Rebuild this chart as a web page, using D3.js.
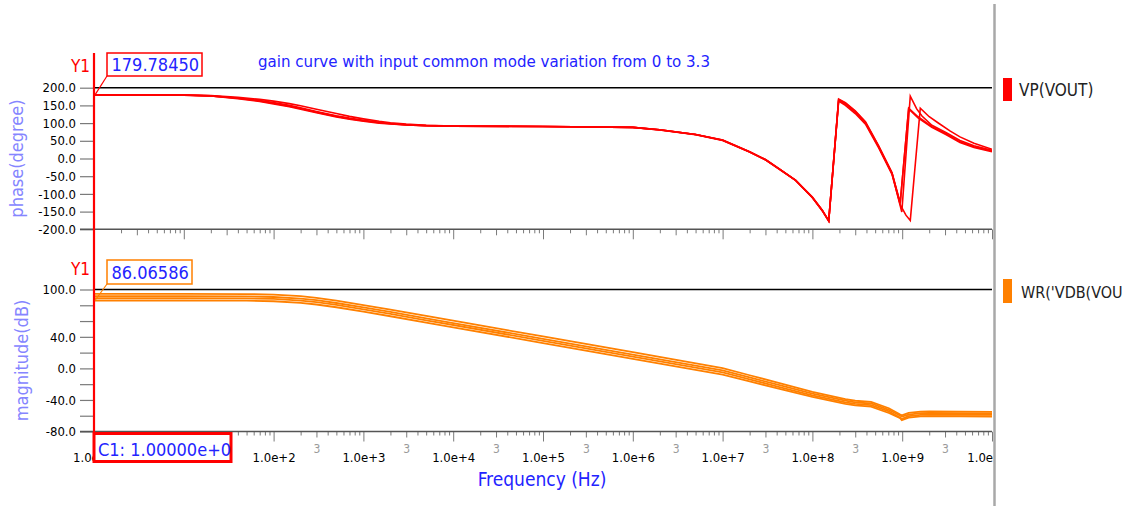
<!DOCTYPE html>
<html>
<head>
<meta charset="utf-8">
<script src="https://cdn.jsdelivr.net/npm/d3@7"></script>
<style>
  html, body { margin: 0; padding: 0; background: #fff; }
  svg { display: block; }
  text { font-family: "DejaVu Sans Condensed", "DejaVu Sans", sans-serif; }
</style>
</head>
<body>
<svg id="chart" width="1134" height="510"></svg>
<script>
// ---- frequency axis ----
const decadeValues = [1, 1e1, 1e2, 1e3, 1e4, 1e5, 1e6, 1e7, 1e8, 1e9, 1e10];
const decadeLabels = ["1.0e+0", "1.0e+1", "1.0e+2", "1.0e+3", "1.0e+4", "1.0e+5",
                      "1.0e+6", "1.0e+7", "1.0e+8", "1.0e+9", "1.0e+10"];
const minorMantissas = [2, 3, 4, 5, 6, 7, 8, 9];
const labelledMantissa = 3;

// ---- phase axis ----
const phaseTicks = [200, 150, 100, 50, 0, -50, -100, -150, -200];
const phaseTickLabels = ["200.0", "150.0", "100.0", "50.0", "0.0", "-50.0", "-100.0", "-150.0", "-200.0"];

// ---- magnitude axis ----
const magTicks = [100, 80, 60, 40, 20, 0, -20, -40, -60, -80];
const magLabelValues = [100, 40, 0, -40, -80];
const magLabelTexts = ["100.0", "40.0", "0.0", "-40.0", "-80.0"];

// ---- VP(VOUT): phase in degrees, one curve per input common-mode level ----
const phaseCurve1 = [[1,179.8],[10,179.3],[20,177.5],[40,173],[70,167],[100,162],[150,155],[200,149],[300,139],[500,127],[700,119],[1e3,112],[1.5e3,105],[2e3,101],[3e3,97],[5e3,94],[1e4,92],[1e5,90.5],[1e6,88],[2e6,81],[5e6,68],[1e7,52],[2e7,19],[3e7,-3],[4.2e7,-28],[6.5e7,-61],[1e8,-109],[1.29e8,-146],[1.52e8,-176],[1.96e8,168],[2.33e8,158],[3e8,135],[3.9e8,104],[5.47e8,36],[7.7e8,-40],[9.5e8,-127],[1.18e9,142],[1.5e9,118],[2.14e9,90],[3.1e9,70],[4.4e9,47],[6.3e9,33],[1e10,21]];
const phaseCurve2 = [[1,179.8],[10,179.2],[20,177],[40,171],[70,164],[100,158],[150,150],[200,143],[300,133],[500,121],[700,114],[1e3,108],[1.5e3,102],[2e3,99],[3e3,95.5],[5e3,93],[1e4,91.5],[1e5,90.5],[1e6,88],[2e6,81],[5e6,68],[1e7,52],[2e7,19],[3e7,-3],[4.2e7,-28],[6.5e7,-62],[1e8,-110],[1.29e8,-147],[1.52e8,-176],[1.96e8,165],[2.33e8,154],[3e8,131],[3.9e8,100],[5.47e8,33],[7.7e8,-42],[9.9e8,-151],[1.23e9,176],[1.45e9,140],[1.66e9,120],[2.14e9,94],[3.1e9,73],[4.4e9,51],[6.3e9,36],[1e10,23]];
const phaseCurve3 = [[1,179.8],[10,179],[20,176.5],[40,169],[70,161],[100,154],[150,146],[200,139],[300,129],[500,117],[700,111],[1e3,105],[1.5e3,100],[2e3,97.5],[3e3,94.5],[5e3,92.5],[1e4,91.3],[1e5,90.5],[1e6,88],[2e6,80.5],[5e6,67.5],[1e7,51],[2e7,18],[3e7,-4],[4.2e7,-29],[6.5e7,-62],[1e8,-111],[1.29e8,-148],[1.52e8,-177],[1.96e8,162],[2.33e8,150],[3e8,127],[3.9e8,97],[5.47e8,30],[7.7e8,-45],[9.5e8,-130],[1.1e9,-160],[1.23e9,-175],[1.59e9,142],[2e9,118],[2.5e9,101],[3.4e9,78],[4.4e9,61],[6.3e9,43],[1e10,26]];
const phaseCurve4 = [[1,179.7845],[10,179.1],[20,176.8],[40,170],[70,162.5],[100,156],[150,148],[200,141],[300,131],[500,119],[700,112.5],[1e3,106.5],[1.5e3,101],[2e3,98],[3e3,95],[5e3,92.8],[1e4,91.4],[1e5,90.5],[1e6,88],[2e6,80.8],[5e6,67.8],[1e7,51.5],[2e7,18.5],[3e7,-3.5],[4.2e7,-28.5],[6.5e7,-61.5],[1e8,-110],[1.29e8,-147],[1.52e8,-176],[1.96e8,166],[2.33e8,156],[3e8,133],[3.9e8,102],[5.47e8,34],[7.7e8,-41],[9.5e8,-125],[1.18e9,140],[1.5e9,115],[2.14e9,88],[3.1e9,67],[4.4e9,45],[6.3e9,31],[1e10,19]];

// ---- VDB(VOUT): magnitude in dB on a shared frequency grid ----
const magFreq = [1, 10, 50, 100, 200, 300, 500, 1e3, 2e3, 5e3, 1e4, 1e5, 1e6, 1e7, 2e7, 4.2e7, 1e8, 2.33e8, 3e8, 4.5e8, 7.1e8, 9.5e8, 9.9e8, 1.18e9, 1.6e9, 2e9, 1e10];
const magCurve1 = [94.5, 94.5, 94.2, 93.5, 91.5, 89.4, 85.9, 80.3, 74.5, 66.5, 60.5, 40.5, 20.5, 0.3, -8.7, -18.3, -29.8, -39, -41, -42.5, -50.5, -58.5, -59.5, -56.5, -54.8, -54.5, -55];
const magCurve2 = [91.5, 91.5, 91.2, 90.5, 88.5, 86.4, 82.9, 77.3, 71.5, 63.5, 57.5, 37.5, 17.5, -2.5, -11.4, -20.9, -31.9, -41, -43, -44.5, -52.5, -60, -61, -58.5, -56.8, -56.5, -57];
const magCurve3 = [89, 89, 88.7, 88, 86, 83.9, 80.4, 74.8, 69, 61, 55, 35, 15, -5, -13.8, -23.3, -34.2, -43, -45, -46.5, -54.5, -62.5, -64, -60.5, -58.8, -58.5, -59];
const magCurve4 = [86.06586, 86.06, 85.8, 85.1, 83.1, 81, 77.5, 71.9, 66.1, 58.1, 52.1, 32.1, 12.1, -7.9, -16.5, -25.8, -36.2, -45, -47, -48.5, -56.5, -63, -65.6, -62.5, -60.8, -60.5, -61];

// ---- cursor read-outs ----
const cursorFreq = 1;
const cursorPhase = 179.78450;
const cursorMag = 86.06586;
const cursorPhaseText = "179.78450";
const cursorMagText = "86.06586";
const cursorFreqText = "C1: 1.00000e+0";

const titleText = "gain curve with input common mode variation from 0 to 3.3";
const legendPhase = "VP(VOUT)";
const legendMag = "WR('VDB(VOU";

// ---- layout ----
const RED = "#ff0000", ORANGE = "#ff8000", BLUE = "#2323ff", AXISBLUE = "#8585ff";
const svg = d3.select("#chart");

const x = d3.scaleLog().domain([1, 1e10]).range([94, 992]);
const yP = d3.scaleLinear().domain([-200, 200]).range([229.3, 87.7]);
const yM = d3.scaleLinear().domain([-80, 100]).range([431.5, 289.5]);

// cursor read-out box under the frequency axis
const c1Box = { w: 137, h: 28 };

const defs = svg.append("defs");
defs.append("clipPath").attr("id", "clipP").append("rect")
  .attr("x", x.range()[0]).attr("y", yP.range()[1] - 2)
  .attr("width", x.range()[1] - x.range()[0]).attr("height", yP.range()[0] - yP.range()[1] + 4);
defs.append("clipPath").attr("id", "clipM").append("rect")
  .attr("x", x.range()[0]).attr("y", yM.range()[1] - 2)
  .attr("width", x.range()[1] - x.range()[0]).attr("height", yM.range()[0] - yM.range()[1] + 4);
defs.append("clipPath").attr("id", "clipX").append("rect")
  .attr("x", 0).attr("y", 0).attr("width", x.range()[1] + 1).attr("height", 510);

// right-hand separator
svg.append("line").attr("x1", 994.5).attr("x2", 994.5).attr("y1", 4).attr("y2", 506)
  .attr("stroke", "#a8a8a8").attr("stroke-width", 2.5);

// frequency ticks: decades plus 2..9 inside each decade
const freqTicks = [];
decadeValues.forEach((d, i) => {
  freqTicks.push(d);
  if (i < decadeValues.length - 1) minorMantissas.forEach(m => freqTicks.push(m * d));
});
const mantissa = d => Math.round(d / Math.pow(10, Math.floor(Math.log10(d) + 1e-9)));

function freqAxis(yPos, withLabels) {
  const axis = d3.axisBottom(x).tickValues(freqTicks).tickSizeOuter(0)
    .tickFormat(d => {
      if (!withLabels) return "";
      const i = decadeValues.findIndex(v => Math.abs(v - d) / v < 1e-6);
      return i >= 0 ? decadeLabels[i] : "";
    });
  const g = svg.append("g").attr("transform", `translate(0,${yPos})`)
    .attr("clip-path", "url(#clipX)").call(axis);
  g.select(".domain").remove();
  g.selectAll(".tick line").attr("stroke", "#7a7a7a").attr("stroke-width", 1)
    .attr("y2", d => { const m = mantissa(d); return m === 1 ? 10 : (m === labelledMantissa ? 6 : 4); });
  g.selectAll(".tick text").attr("fill", "#000").style("font-size", "13px").attr("y", 21);
  if (withLabels) {
    // small "3" marks, except where the cursor box sits on top of them
    g.selectAll(".tick")
      .filter(d => mantissa(d) === labelledMantissa && x(d) > x(cursorFreq) + c1Box.w + 4)
      .append("text").text(String(labelledMantissa))
      .attr("y", 13).attr("dy", "0.71em").attr("text-anchor", "middle")
      .attr("fill", "#9a9a9a").style("font-size", "12px");
  }
  svg.append("line").attr("x1", x.range()[0] - 14).attr("x2", x.range()[1])
    .attr("y1", yPos).attr("y2", yPos).attr("stroke", "#555").attr("stroke-width", 1.6);
  return g;
}

function valueAxis(scale, ticks, fmt) {
  const g = svg.append("g").attr("transform", `translate(${x.range()[0] - 1},0)`)
    .call(d3.axisLeft(scale).tickValues(ticks).tickFormat(fmt).tickSize(13).tickPadding(4).tickSizeOuter(0));
  g.select(".domain").attr("stroke", "#7a7a7a");
  g.selectAll(".tick line").attr("stroke", "#7a7a7a").attr("stroke-width", 1.2);
  g.selectAll(".tick text").attr("fill", "#000").style("font-size", "13px");
  return g;
}

// ---- phase panel ----
valueAxis(yP, phaseTicks, (d, i) => phaseTickLabels[i]);
freqAxis(yP.range()[0], false);
svg.append("line").attr("x1", x.range()[0]).attr("x2", x.range()[1])
  .attr("y1", yP(200)).attr("y2", yP(200)).attr("stroke", "#000").attr("stroke-width", 1.6);

const phaseLine = d3.line().x(d => x(d[0])).y(d => yP(d[1]));
svg.append("g").attr("clip-path", "url(#clipP)")
  .selectAll("path").data([phaseCurve1, phaseCurve2, phaseCurve3, phaseCurve4]).join("path")
  .attr("d", phaseLine).attr("fill", "none").attr("stroke", RED).attr("stroke-width", 1.6);

// ---- magnitude panel ----
valueAxis(yM, magTicks, d => { const i = magLabelValues.indexOf(d); return i >= 0 ? magLabelTexts[i] : ""; });
freqAxis(yM.range()[0], true);
svg.append("line").attr("x1", x.range()[0]).attr("x2", x.range()[1])
  .attr("y1", yM(100)).attr("y2", yM(100)).attr("stroke", "#000").attr("stroke-width", 1.6);

const magLine = d3.line().x((d, i) => x(magFreq[i])).y(d => yM(d));
svg.append("g").attr("clip-path", "url(#clipM)")
  .selectAll("path").data([magCurve1, magCurve2, magCurve3, magCurve4]).join("path")
  .attr("d", magLine).attr("fill", "none").attr("stroke", ORANGE).attr("stroke-width", 1.8);

// ---- axis titles ----
svg.append("text").text("phase(degree)").attr("transform", `translate(23,${(yP.range()[0] + yP.range()[1]) / 2}) rotate(-90)`)
  .attr("text-anchor", "middle").attr("fill", AXISBLUE).style("font-size", "18px");
svg.append("text").text("magnitude(dB)").attr("transform", `translate(28,${(yM.range()[0] + yM.range()[1]) / 2}) rotate(-90)`)
  .attr("text-anchor", "middle").attr("fill", AXISBLUE).style("font-size", "18px");
svg.append("text").text("Frequency (Hz)").attr("x", 542).attr("y", 486)
  .attr("text-anchor", "middle").attr("fill", BLUE).style("font-size", "19px");

// ---- title ----
svg.append("text").text(titleText).attr("x", 258).attr("y", 67)
  .attr("textLength", 452).attr("lengthAdjust", "spacingAndGlyphs")
  .attr("fill", BLUE).style("font-size", "15px");

// ---- legend ----
svg.append("rect").attr("x", 1003).attr("y", 78).attr("width", 9).attr("height", 23).attr("fill", RED);
svg.append("text").text(legendPhase).attr("x", 1019).attr("y", 96).attr("fill", "#222").style("font-size", "17px");
svg.append("rect").attr("x", 1003).attr("y", 279).attr("width", 9).attr("height", 24).attr("fill", ORANGE);
svg.append("text").text(legendMag).attr("x", 1021).attr("y", 298).attr("fill", "#222").style("font-size", "16px");

// ---- cursor C1 ----
const cx = x(cursorFreq);
svg.append("line").attr("x1", cx).attr("x2", cx).attr("y1", 53).attr("y2", yM.range()[0] + 2)
  .attr("stroke", RED).attr("stroke-width", 2.2);

function readout(yText, label, boxX, boxY, boxW, boxH, color, px, py) {
  svg.append("text").text("Y1").attr("x", 90).attr("y", yText).attr("text-anchor", "end")
    .attr("fill", RED).style("font-size", "17px");
  svg.append("line").attr("x1", boxX).attr("y1", boxY + boxH).attr("x2", px).attr("y2", py)
    .attr("stroke", color).attr("stroke-width", 1.2);
  svg.append("rect").attr("x", boxX).attr("y", boxY).attr("width", boxW).attr("height", boxH)
    .attr("fill", "#fff").attr("stroke", color).attr("stroke-width", 1.5);
  svg.append("text").text(label).attr("x", boxX + 4.5).attr("y", boxY + boxH - 5)
    .attr("fill", BLUE).style("font-size", "18px");
}
readout(72, cursorPhaseText, 107, 53, 95, 23, RED, cx + 1, yP(cursorPhase));
readout(275, cursorMagText, 107, 260, 85, 24, ORANGE, cx + 1, yM(cursorMag));

svg.append("rect").attr("x", cx).attr("y", yM.range()[0] + 2).attr("width", c1Box.w).attr("height", c1Box.h)
  .attr("fill", "#fff").attr("stroke", RED).attr("stroke-width", 3);
svg.append("text").text(cursorFreqText).attr("x", cx + 4).attr("y", yM.range()[0] + 24)
  .attr("fill", BLUE).style("font-size", "18px");
</script>
</body>
</html>
